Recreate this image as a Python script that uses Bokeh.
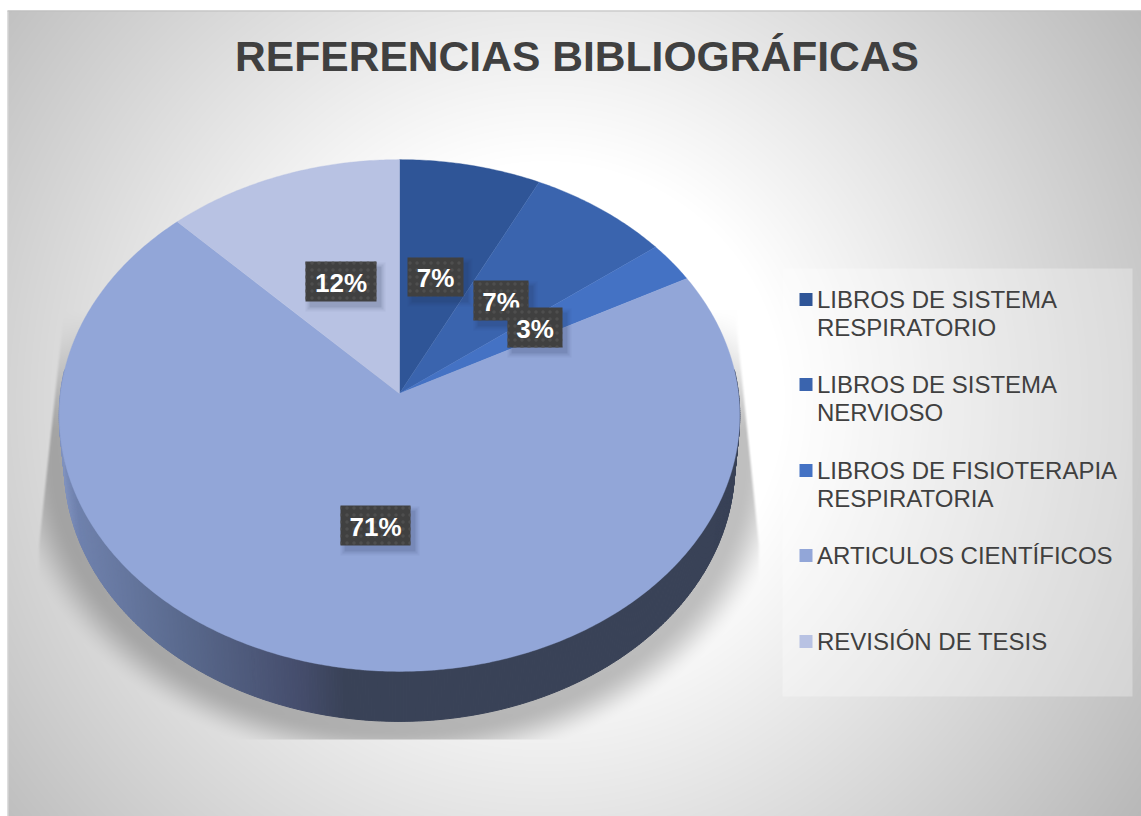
import numpy as np
from bokeh.plotting import figure
from bokeh.models import Range1d
from bokeh.core.properties import value
from bokeh.embed import file_html
from bokeh.resources import INLINE

# ---- data
title_text = "REFERENCIAS BIBLIOGRÁFICAS"
categories = ["LIBROS DE SISTEMA\nRESPIRATORIO", "LIBROS DE SISTEMA\nNERVIOSO",
              "LIBROS DE FISIOTERAPIA\nRESPIRATORIA", "ARTICULOS CIENTÍFICOS", "REVISIÓN DE TESIS"]
shares = [7.4, 7.4, 2.6, 71.4, 12.4]
slice_colors = ["#2f5597", "#3a64ae", "#4472c4", "#92a6d8", "#b8c2e3"]

# ---- layout (screen px in the window)
W, H = 1141, 816
X0, Y0 = 0, 0
FONT = value("Liberation Sans")
APEX_X, APEX_Y = 399.0, 393.0
A, B, K = 254.0, 339.0, 0.086
DEPTH = 50.0
RIM_SCALE = 0.985
label_boxes = [(407, 463, 257, 296), (473, 528, 280, 320), (507, 562, 307, 347),
               (340, 410, 505, 545), (305, 376, 261, 301)]
legend_y = [299, 384, 470, 555, 641]
LINE_H = 28


def sy(y):
    return 816 - np.asarray(y, dtype=float)


def project(theta):
    u, v = np.sin(theta), np.cos(theta)
    d = 1 + K * v
    return APEX_X + B * u / d, APEX_Y - A * v / d


p = figure(width=W, height=H, x_range=Range1d(X0, X0 + W), y_range=Range1d(0, H),
           toolbar_location=None, output_backend="svg", min_border=0,
           background_fill_color="white", border_fill_color="white", outline_line_color=None)
p.axis.visible = False
p.grid.visible = False

# ---- background gradient + soft shadow as a raster
xx, yy = np.meshgrid(np.arange(X0, X0 + W) + 0.5, np.arange(Y0, Y0 + H) + 0.5)
dist = np.hypot(xx - 545, yy - 400)
bg = np.clip(255 - 0.145 * np.clip(dist - 240, 0, None), 0, 255)
r = np.hypot((xx - 399) / 395, (yy - 455) / 315)
sh = np.clip((1 - r) / 0.13, 0, 1)
sh = sh * sh * (3 - 2 * sh)
left_lim = np.where(yy < 545, 37 + (545 - yy) * 23 / 215, 37)
right_lim = np.where(yy < 545, 760 - (545 - yy) * 22 / 215, 760)
edge = np.clip((xx - left_lim) / 3, 0, 1) * np.clip((right_lim - xx) / 3, 0, 1)
sh = sh * edge * np.clip((yy - 310) / 120, 0, 1) * (yy < 739)
gray = bg * (1 - 0.25 * sh)
gray = gray.astype(np.uint32)
inside = (yy >= 10) & (xx >= 8)
img = np.where(inside, (255 << 24) | (gray << 16) | (gray << 8) | gray, 0xFFFFFFFF).astype(np.uint32)
p.image_rgba(image=[img[::-1]], x=X0, y=0, dw=W, dh=H)
p.line([7.5, 7.5], [0, float(sy(10))], line_color="#bdbdbd", line_width=1)
p.line([7, W], [float(sy(10.5)), float(sy(10.5))], line_color="#bdbdbd", line_width=1)

# ---- side wall
angles = np.linspace(np.pi * 0.47, np.pi * 1.53, 420)
side_xs, side_ys, side_cols = [], [], []
stops_x = [60, 75, 180, 300, 345, 800]
stops_r = [0x80, 0x70, 0x5a, 0x45, 0x39, 0x39]
stops_g = [0x92, 0x82, 0x6a, 0x4d, 0x42, 0x42]
stops_b = [0xbe, 0xae, 0x8e, 0x6c, 0x57, 0x57]
for a0, a1 in zip(angles[:-1], angles[1:]):
    x0, y0 = project(a0)
    x1, y1 = project(a1)
    lx0 = APEX_X + (x0 - APEX_X) * RIM_SCALE
    lx1 = APEX_X + (x1 - APEX_X) * RIM_SCALE
    side_xs.append([x0, x1, lx1, lx0])
    side_ys.append(list(sy([y0, y1, y1 + DEPTH, y0 + DEPTH])))
    mx = (x0 + x1) / 2
    side_cols.append("#%02x%02x%02x" % (int(np.interp(mx, stops_x, stops_r)),
                                        int(np.interp(mx, stops_x, stops_g)),
                                        int(np.interp(mx, stops_x, stops_b))))
p.patches(side_xs, side_ys, fill_color=side_cols, line_color=side_cols, line_width=1.0)

# ---- top slices
total = sum(shares)
cum = 0.0
for share, col in zip(shares, slice_colors):
    t0 = cum / total * 2 * np.pi
    cum += share
    t1 = cum / total * 2 * np.pi
    th = np.linspace(t0, t1, max(4, int(share * 6)))
    ax, ay = project(th)
    p.patch(np.r_[APEX_X, ax], sy(np.r_[APEX_Y, ay]), fill_color=col, line_color=col, line_width=0.4)

# ---- data labels
order_labels = [f"{round(s)}%" for s in shares]
for (x0, x1, y0, y1), lab in zip(label_boxes, order_labels):
    for grow, alpha in [(5, 0.05), (3, 0.08), (1, 0.12)]:
        p.quad(left=x0 + 5 - grow, right=x1 + 4 + grow, top=sy(y0 + 6 - grow), bottom=sy(y1 + 5 + grow),
               fill_color="#1f3050", fill_alpha=alpha, line_color=None)
    p.quad(left=x0, right=x1, top=sy(y0), bottom=sy(y1), fill_color="#404040", line_color=None,
           hatch_pattern="dot", hatch_color="#4e4e4e", hatch_scale=7, hatch_weight=1)
    p.text(x=[(x0 + x1) / 2], y=sy([(y0 + y1) / 2 + 1]), text=[lab], text_color="white",
           text_font=FONT, text_font_style="bold", text_font_size="26px",
           text_align="center", text_baseline="middle")

# ---- legend
p.quad(left=782, right=1132, top=sy(268), bottom=sy(696), fill_color="white", fill_alpha=0.3, line_color=None)
for name, col, y in zip(categories, slice_colors, legend_y):
    p.quad(left=799, right=812, top=sy(y - 6.5), bottom=sy(y + 6.5), fill_color=col, line_color=None)
    for i, line in enumerate(name.split("\n")):
        p.text(x=[816.5], y=sy([y + i * LINE_H]), text=[line], text_color="#404040", text_font=FONT,
               text_font_size="24px", text_align="left", text_baseline="middle")

# ---- title
p.text(x=[576.5], y=sy([55]), text=[title_text], text_color="#404040", text_font=FONT,
       text_font_style="bold", text_font_size="42.6px", text_align="center", text_baseline="middle")

open("out.html", "w").write(file_html(p, INLINE))
